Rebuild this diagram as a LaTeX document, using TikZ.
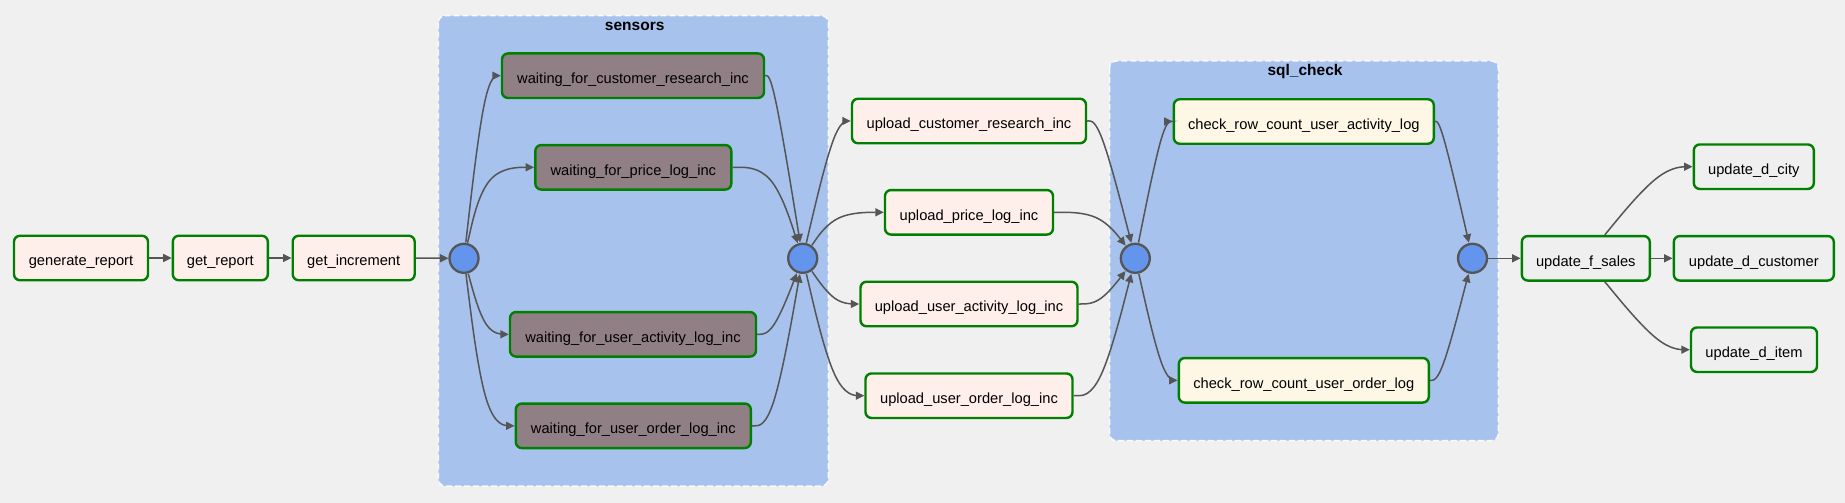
\documentclass[tikz,border=0pt]{standalone}
\usepackage{fontspec}
\setmainfont{Liberation Sans}
\usetikzlibrary{arrows.meta,calc}
\definecolor{bgc}{HTML}{F0F0F0}
\definecolor{grpc}{HTML}{A8C2EE}
\definecolor{taskc}{HTML}{FFEFEA}
\definecolor{sensc}{HTML}{917F86}
\definecolor{chkc}{HTML}{FFF7E6}
\definecolor{updc}{HTML}{EFEFEF}
\definecolor{brdc}{HTML}{008000}
\definecolor{edgec}{HTML}{555555}
\definecolor{joinc}{HTML}{6495ED}
\newcommand{\dagedge}[3]{%
  \coordinate (q1) at (#2);
  \coordinate (q0) at (#1);
  \coordinate (q2) at (#3);
  \draw[edgeline] (q0) -- ($5/6*(q0)+1/6*(q1)$)
    .. controls ($2/3*(q0)+1/3*(q1)$) and ($1/3*(q0)+2/3*(q1)$) .. ($1/6*(q0)+2/3*(q1)+1/6*(q2)$)
    .. controls ($2/3*(q1)+1/3*(q2)$) and ($1/3*(q1)+2/3*(q2)$) .. ($1/6*(q1)+5/6*(q2)$) -- (q2);
}
\begin{document}
\begin{tikzpicture}[x=1pt,y=-1pt,
  taskbox/.style={draw=brdc, line width=2.4pt, rounded corners=6pt, minimum height=44.5pt,
    inner sep=0pt, text height=18pt, text depth=2.6pt,
    font=\fontsize{14.67}{17}\selectfont, text=black},
  plain/.style={taskbox, fill=taskc},
  sens/.style={taskbox, fill=sensc},
  chk/.style={taskbox, fill=chkc},
  upd/.style={taskbox, fill=updc},
  joinnode/.style={circle, draw=edgec, fill=joinc, line width=2.3pt, minimum size=29pt, inner sep=0pt},
  grpbox/.style={fill=grpc, draw=white, draw opacity=0.85, line width=1.5pt, dash pattern=on 6pt off 3pt, rounded corners=7pt},
  grptitle/.style={font=\fontsize{15.5}{18}\selectfont\bfseries, text=black},
  edgeline/.style={draw=edgec, line width=1.5pt, -{Triangle[length=8.5pt,width=8pt]}}
]
\fill[bgc] (0,0) rectangle (1845,503);
\useasboundingbox (0,0) rectangle (1845,503);

% groups
\path[grpbox] (438.3,15.7) rectangle (828.3,486);
\node[grptitle] (sensorsT) at (634.7,26) {sensors};
\path[grpbox] (1109.5,61) rectangle (1498.3,440.7);
\node[grptitle] (sqlT) at (1305,71.7) {sql\_check};

% rank coordinates for edge bends
\coordinate (r1) at (485,0);
\coordinate (r2) at (773,0);
\coordinate (r3) at (835,0);
\coordinate (r4) at (1100,0);
\coordinate (r5) at (1163,0);
\coordinate (r6) at (1441,0);
\coordinate (r7) at (1661,0);

% nodes
\node[plain, minimum width=134pt] (gr) at (81,258) {generate\_report};
\node[plain, minimum width=95pt] (getr) at (220.3,258) {get\_report};
\node[plain, minimum width=122pt] (geti) at (353.7,258) {get\_increment};
\node[joinnode] (c1) at (464,258.3) {};

\node[sens, minimum width=262pt] (wfcr) at (633,75.7) {waiting\_for\_customer\_research\_inc};
\node[sens, minimum width=196pt] (wfpl) at (633.3,167.3) {waiting\_for\_price\_log\_inc};
\node[sens, minimum width=246pt] (wfual) at (633,334.3) {waiting\_for\_user\_activity\_log\_inc};
\node[sens, minimum width=235pt] (wfuol) at (633.3,425.8) {waiting\_for\_user\_order\_log\_inc};
\node[joinnode] (c2) at (802.7,258.3) {};

\node[plain, minimum width=234pt] (ucr) at (969,121) {upload\_customer\_research\_inc};
\node[plain, minimum width=168pt] (upl) at (969,212.3) {upload\_price\_log\_inc};
\node[plain, minimum width=217pt] (uual) at (969,304) {upload\_user\_activity\_log\_inc};
\node[plain, minimum width=207pt] (uuol) at (969,395.7) {upload\_user\_order\_log\_inc};
\node[joinnode] (c3) at (1135.3,258.3) {};

\node[chk, minimum width=260pt] (cua) at (1303.8,121.5) {check\_row\_count\_user\_activity\_log};
\node[chk, minimum width=250pt] (cuo) at (1303.8,380.3) {check\_row\_count\_user\_order\_log};
\node[joinnode] (c4) at (1472.5,258.3) {};

\node[upd, minimum width=128pt] (fs) at (1585.8,258.3) {update\_f\_sales};
\node[upd, minimum width=120pt] (city) at (1753.8,166.7) {update\_d\_city};
\node[upd, minimum width=160pt] (cust) at (1753.8,258.3) {update\_d\_customer};
\node[upd, minimum width=126pt] (item) at (1754,349.7) {update\_d\_item};

% edges
\draw[edgeline] (gr) -- (getr);
\draw[edgeline] (getr) -- (geti);
\draw[edgeline] (geti) -- (c1);

\dagedge{$(c1)!16pt!(q1)$}{r1 |- wfcr}{wfcr.west}
\dagedge{$(c1)!16pt!(q1)$}{r1 |- wfpl}{wfpl.west}
\dagedge{$(c1)!16pt!(q1)$}{r1 |- wfual}{wfual.west}
\dagedge{$(c1)!16pt!(q1)$}{r1 |- wfuol}{wfuol.west}

\dagedge{wfcr.east}{r2 |- wfcr}{$(c2)!16pt!(q1)$}
\dagedge{wfpl.east}{r2 |- wfpl}{$(c2)!16pt!(q1)$}
\dagedge{wfual.east}{r2 |- wfual}{$(c2)!16pt!(q1)$}
\dagedge{wfuol.east}{r2 |- wfuol}{$(c2)!16pt!(q1)$}

\dagedge{$(c2)!16pt!(q1)$}{r3 |- ucr}{ucr.west}
\dagedge{$(c2)!16pt!(q1)$}{r3 |- upl}{upl.west}
\dagedge{$(c2)!16pt!(q1)$}{r3 |- uual}{uual.west}
\dagedge{$(c2)!16pt!(q1)$}{r3 |- uuol}{uuol.west}

\dagedge{ucr.east}{r4 |- ucr}{$(c3)!16pt!(q1)$}
\dagedge{upl.east}{r4 |- upl}{$(c3)!16pt!(q1)$}
\dagedge{uual.east}{r4 |- uual}{$(c3)!16pt!(q1)$}
\dagedge{uuol.east}{r4 |- uuol}{$(c3)!16pt!(q1)$}

\dagedge{$(c3)!16pt!(q1)$}{r5 |- cua}{cua.west}
\dagedge{$(c3)!16pt!(q1)$}{r5 |- cuo}{cuo.west}

\dagedge{cua.east}{r6 |- cua}{$(c4)!16pt!(q1)$}
\dagedge{cuo.east}{r6 |- cuo}{$(c4)!16pt!(q1)$}

\draw[edgeline] (c4) -- (fs);
\dagedge{$(fs.north)+(19,0)$}{r7 |- city}{city.west}
\draw[edgeline] (fs) -- (cust);
\dagedge{$(fs.south)+(19,0)$}{r7 |- item}{item.west}
\end{tikzpicture}
\end{document}
